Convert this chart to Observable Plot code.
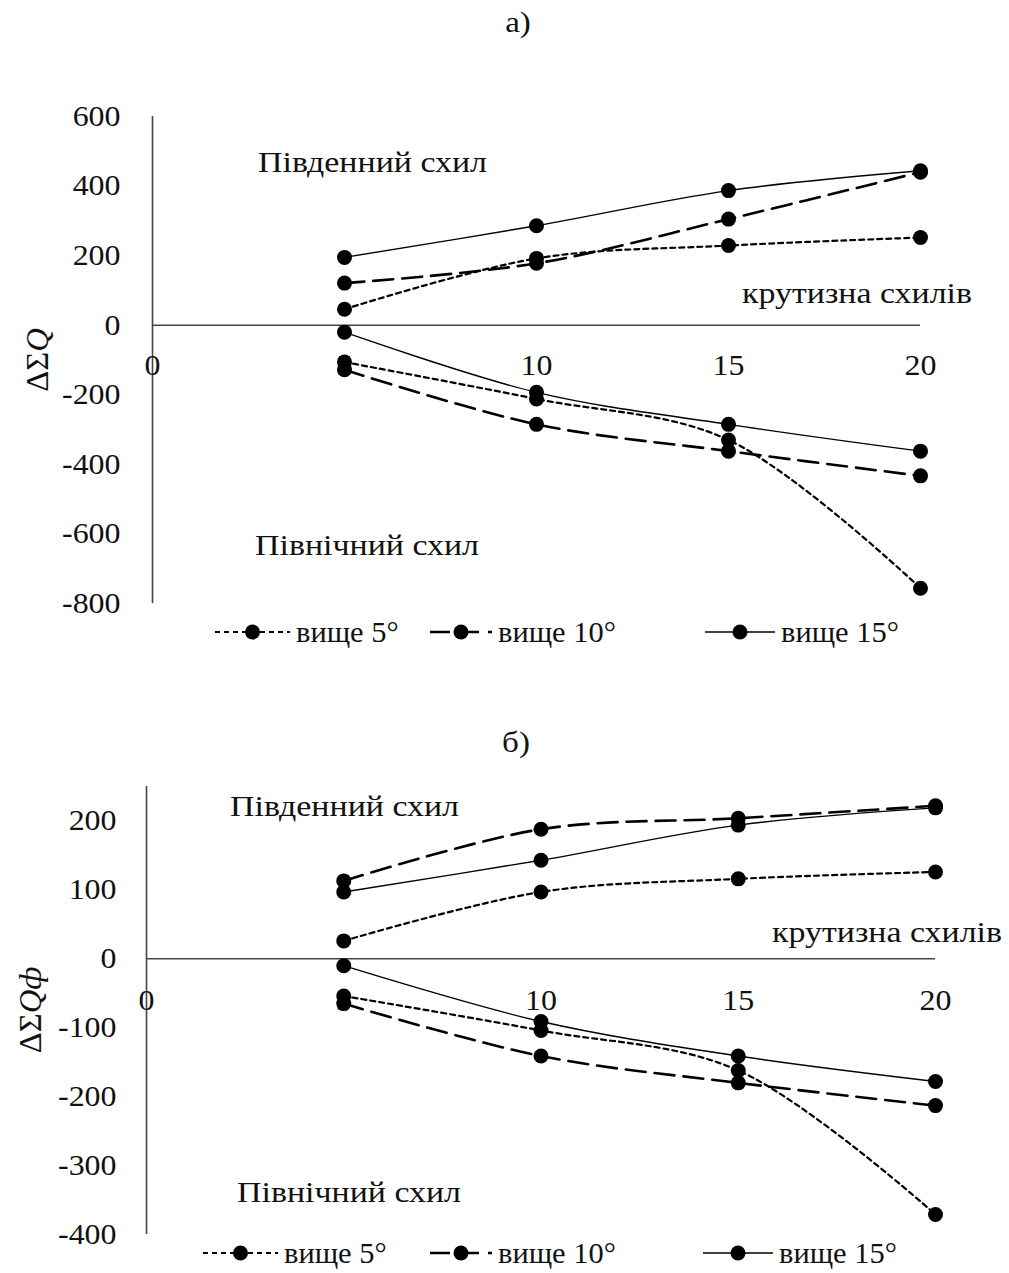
<!DOCTYPE html>
<html>
<head>
<meta charset="utf-8">
<script src="https://cdn.jsdelivr.net/npm/d3@7"></script>
<script src="https://cdn.jsdelivr.net/npm/@observablehq/plot@0.6"></script>
<style>
  html, body { margin: 0; padding: 0; background: #fff; }
  #page { position: relative; width: 1009px; height: 1273px; overflow: hidden; background: #fff;
          font-family: "Liberation Serif", "Times New Roman", serif; color: #111; }
  .abs { position: absolute; white-space: nowrap; line-height: 1; }
  .lbl { font-size: 30px; transform-origin: 0 50%; transform: translateY(-50%) scaleX(1.13); }
  .ttl { font-size: 30px; transform: translate(-50%, -50%) scaleX(1.1); }
  .ylab { font-size: 31px; transform: translate(-50%, -50%) rotate(-90deg) scaleX(1.05); }
  .leg { display: flex; align-items: center; font-size: 29px; }
  .leg span { display: inline-block; transform-origin: 0 50%; transform: scaleX(1.05); }
  .leg svg { display: block; }
</style>
</head>
<body>
<div id="page"></div>
<script>
// ---------- data ----------
const slopes = [5, 10, 15, 20];
const seriesNames = ["вище 5°", "вище 10°", "вище 15°"];
const xTicks = [0, 5, 10, 15, 20];

// chart а) ΔΣQ
const aSouth5  = [46, 192, 229, 252];
const aSouth10 = [121, 178, 305, 440];
const aSouth15 = [195, 286, 387, 444];
const aNorth5  = [-106, -212, -330, -756];
const aNorth10 = [-128, -285, -362, -433];
const aNorth15 = [-20, -193, -285, -362];
const aYTicks  = [600, 400, 200, 0, -200, -400, -600, -800];

// chart б) ΔΣQф
const bSouth5  = [26, 97, 116, 126];
const bSouth10 = [113, 188, 204, 222];
const bSouth15 = [97, 143, 194, 219];
const bNorth5  = [-54, -104, -162, -371];
const bNorth10 = [-65, -141, -180, -213];
const bNorth15 = [-10, -91, -141, -178];
const bYTicks  = [200, 100, 0, -100, -200, -300, -400];

// ---------- styles ----------
const styles = [
  {dash: "5,4", width: 2.2},   // вище 5°
  {dash: "20,9", width: 2.6},  // вище 10°
  {dash: null, width: 1.4}     // вище 15°
];

function buildRows(groups) {
  const rows = [];
  groups.forEach((pair, si) => {
    ["S", "N"].forEach((side, k) => {
      pair[k].forEach((v, i) => rows.push({s: si, key: si + side, x: slopes[i], y: v}));
    });
  });
  return rows;
}

function makeChart(cfg) {
  const rows = buildRows(cfg.groups);
  const marks = [
    Plot.ruleX([0], {stroke: "#444", strokeWidth: 1.6}),
    Plot.ruleY([0], {x1: 0, x2: 20, stroke: "#444", strokeWidth: 1.6}),
    Plot.axisY({ticks: cfg.yTicks, tickSize: 0, tickPadding: cfg.tickPad, fontSize: 29,
                tickFormat: d => String(d), label: null}),
    Plot.text(xTicks, {x: d => d, y: 0, dy: cfg.xLabDy, text: d => String(d), fontSize: 29, fill: "#111"})
  ];
  styles.forEach((st, si) => {
    marks.push(Plot.line(rows.filter(r => r.s === si), {
      x: "x", y: "y", z: "key", curve: "catmull-rom",
      stroke: "#000", strokeWidth: st.width, strokeDasharray: st.dash
    }));
  });
  marks.push(Plot.dot(rows, {x: "x", y: "y", r: 7.5, fill: "#000", stroke: "none"}));
  const svg = Plot.plot({
    width: 1009, height: cfg.height,
    marginLeft: cfg.ml, marginRight: cfg.mr, marginTop: cfg.mt, marginBottom: cfg.mb,
    x: {domain: [0, 20], axis: null},
    y: {domain: cfg.yDomain, axis: null},
    style: {fontFamily: "Liberation Serif, Times New Roman, serif", background: "transparent", color: "#111"},
    marks
  });
  // widen glyphs horizontally like the reference's stretched serif text
  svg.querySelectorAll("text").forEach(t => {
    const tr = t.getAttribute("transform") || "";
    t.setAttribute("transform", tr + " scale(1.1,1)");
  });
  svg.style.position = "absolute";
  svg.style.left = "0px";
  svg.style.top = cfg.top + "px";
  return svg;
}

const page = document.getElementById("page");

function addText(cls, txt, left, top, html) {
  const d = document.createElement("div");
  d.className = "abs " + cls;
  d.style.left = left + "px";
  d.style.top = top + "px";
  if (html) d.innerHTML = txt; else d.textContent = txt;
  page.appendChild(d);
  return d;
}

function addLegend(top, items) {
  items.forEach((it, si) => {
    const d = document.createElement("div");
    d.className = "abs leg";
    d.style.left = it.left + "px";
    d.style.top = (top - 18) + "px";
    const w = it.w;
    const s = d3.create("svg").attr("width", w).attr("height", 36);
    s.append("line").attr("x1", 0).attr("x2", w).attr("y1", 18).attr("y2", 18)
      .attr("stroke", "#000").attr("stroke-width", styles[si].width)
      .attr("stroke-dasharray", styles[si].dash);
    s.append("circle").attr("cx", w / 2).attr("cy", 18).attr("r", 7.5).attr("fill", "#000");
    d.appendChild(s.node());
    const t = document.createElement("span");
    t.textContent = seriesNames[si];
    t.style.marginLeft = "6px";
    d.appendChild(t);
    page.appendChild(d);
  });
}

// ---- chart а) ----
page.appendChild(makeChart({
  top: 90, height: 540, ml: 152, mr: 89, mt: 26, mb: 27,
  yDomain: [-800, 600], yTicks: aYTicks, tickPad: 32, xLabDy: 40,
  groups: [[aSouth5, aNorth5], [aSouth10, aNorth10], [aSouth15, aNorth15]]
}));
addText("ttl", "а)", 518, 22);
addText("lbl", "Південний схил", 258, 162);
addText("lbl", "крутизна схилів", 742, 293);
addText("lbl", "Північний схил", 255, 545);
addText("ylab", "ΔΣ<i>Q</i>", 37, 360, true);
addLegend(632, [{left: 215, w: 75}, {left: 430, w: 62}, {left: 705, w: 70}]);

// ---- chart б) ----
page.appendChild(makeChart({
  top: 760, height: 500, ml: 146, mr: 74, mt: 26, mb: 26,
  yDomain: [-400, 250], yTicks: bYTicks, tickPad: 30, xLabDy: 42,
  groups: [[bSouth5, bNorth5], [bSouth10, bNorth10], [bSouth15, bNorth15]]
}));
addText("ttl", "б)", 516, 742);
addText("lbl", "Південний схил", 230, 806);
addText("lbl", "крутизна схилів", 772, 932);
addText("lbl", "Північний схил", 237, 1192);
addText("ylab", "ΔΣ<i>Qф</i>", 30, 1010, true);
addLegend(1253, [{left: 203, w: 75}, {left: 430, w: 62}, {left: 703, w: 70}]);
</script>
</body>
</html>
